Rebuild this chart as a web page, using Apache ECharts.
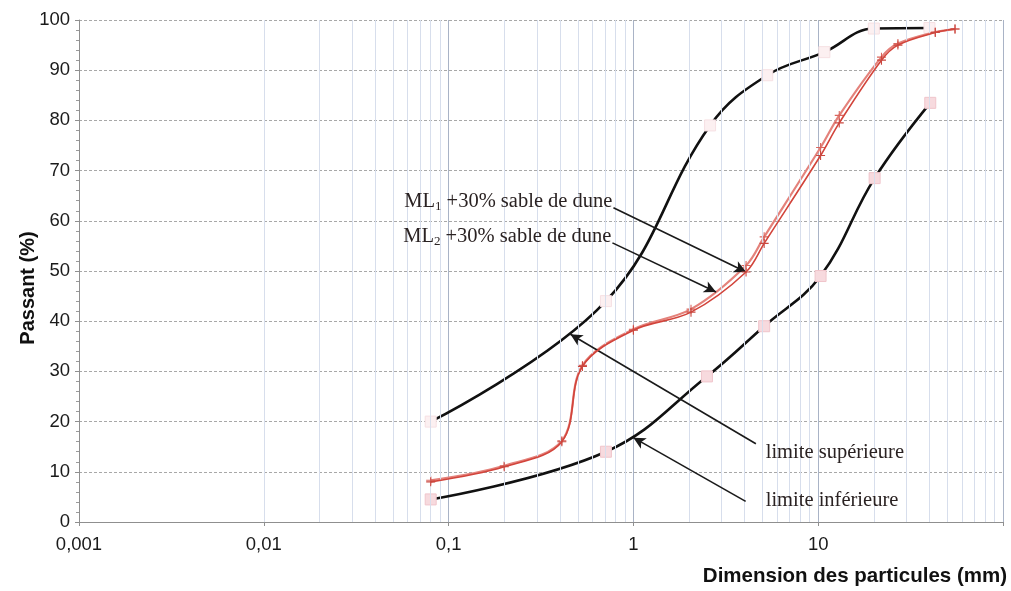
<!DOCTYPE html>
<html><head><meta charset="utf-8">
<script src="https://cdn.jsdelivr.net/npm/echarts@6/dist/echarts.min.js"></script>
<style>html,body{margin:0;padding:0;background:#fff}#c{width:1011px;height:591px}</style>
</head><body><div id="c"></div>
<script>
// ---- data ----
const xTickLabels = { '0.001': '0,001', '0.01': '0,01', '0.1': '0,1', '1': '1', '10': '10', '100': '' };
const upperSizes = [0.08, 0.71, 2.6, 5.3, 10.8, 20, 40];
const upperPass  = [20, 44, 79, 89, 93.6, 98.3, 98.4];
const lowerSizes = [0.08, 0.71, 2.5, 5.1, 10.3, 20.2, 40.4];
const lowerPass  = [4.5, 14, 29, 39, 49, 68.5, 83.5];
const mlSizes    = [0.08, 0.2, 0.41, 0.53, 1, 2.05, 4.07, 5.1, 10.3, 13, 22, 27, 43, 55];
const ml1Pass    = [8, 11, 16, 31, 38.2, 41.8, 49.8, 55.5, 73, 79.5, 92, 95, 97.5, 98.2];
const ml2Pass    = [8.3, 11.2, 16.2, 31.2, 38.4, 42.4, 51.1, 56.8, 74.6, 81, 92.6, 95.3, 97.6, 98.2];

// annotation anchors (data coordinates)
const labelML1 = [0.77, 63.9];
const labelML2 = [0.76, 56.8];
const labelSup = [5.2, 13.9];
const labelInf = [5.2, 4.3];
const arrowML1 = [[0.78, 62.6], [4.07, 49.8]];
const arrowML2 = [[0.77, 55.6], [2.8, 45.8]];
const arrowSup = [[4.6, 15.6], [0.456, 37.4]];
const arrowInf = [[4.05, 4.1], [1.0, 16.8]];

// minor log grid positions (axis structure)
const minorGrid = [];
for (let d = -3; d <= 1; d++) for (let k = 2; k <= 9; k++) minorGrid.push(+(k * Math.pow(10, d)).toPrecision(3));

const zip = (xs, ys) => xs.map((x, i) => [x, ys[i]]);
const crossSym = 'path://M0,4.4H10V5.6H0Z M4.4,0H5.6V10H4.4Z';
const serif = '"Liberation Serif", "DejaVu Serif", serif';
const sans = '"Liberation Sans", Arial, sans-serif';

const chart = echarts.init(document.getElementById('c'), null, { renderer: 'canvas' });

const textPoint = (coord, text, pos) => ({
  coord: coord, symbol: 'circle', symbolSize: 0,
  label: { show: true, position: pos, distance: 0, formatter: text,
    fontFamily: serif, fontSize: 20.5, color: '#2a2222',
    rich: { s: { fontFamily: serif, fontSize: 13, color: '#2a2222', padding: [10, 0, 0, 0] } } }
});
const arrow = (a) => [{ coord: a[0] }, { coord: a[1] }];

chart.setOption({
  backgroundColor: '#fff',
  animation: false,
  grid: { left: 79, right: 8, top: 20, bottom: 69, containLabel: false },
  xAxis: {
    type: 'log', logBase: 10, min: 0.001, max: 100,
    axisLine: { show: true, lineStyle: { color: '#8f8f8f', width: 1 } },
    axisTick: { show: true, length: 4, lineStyle: { color: '#8f8f8f' } },
    axisLabel: { fontFamily: sans, fontSize: 18.5, color: '#1a1a1a', margin: 13,
      formatter: v => { const k = String(+v.toPrecision(3)); return k in xTickLabels ? xTickLabels[k] : ''; } },
    splitLine: { show: true, lineStyle: { color: '#a9b3c6', width: 1 } }
  },
  yAxis: {
    type: 'value', min: 0, max: 100, interval: 10,
    axisLine: { show: true, lineStyle: { color: '#8f8f8f' } },
    axisTick: { show: true, length: 4, lineStyle: { color: '#8f8f8f' } },
    minorTick: { show: true, splitNumber: 5, length: 3, lineStyle: { color: '#9a9a9a' } },
    axisLabel: { fontFamily: sans, fontSize: 18.5, color: '#1a1a1a', margin: 9 },
    splitLine: { show: true, lineStyle: { color: '#a8a8a8', type: [3, 2], width: 1 } }
  },
  graphic: [{
    type: 'text', right: 4, top: 566,
    style: { text: 'Dimension des particules (mm)', font: 'bold 20.5px "Liberation Sans", Arial, sans-serif', fill: '#111' }
  }, {
    type: 'text', x: 28, y: 288, rotation: Math.PI / 2,
    style: { text: 'Passant (%)', font: 'bold 20px "Liberation Sans", Arial, sans-serif', fill: '#111',
      align: 'center', verticalAlign: 'middle' }
  }],
  series: [
    {
      name: 'grille', type: 'line', data: [], silent: true, z: 0,
      markLine: { silent: true, symbol: 'none', label: { show: false },
        lineStyle: { color: '#d7deec', width: 1, type: 'solid' },
        data: minorGrid.map(v => ({ xAxis: v })) }
    },
    {
      name: 'limite supérieure', type: 'line', smooth: 0.4,
      data: zip(upperSizes, upperPass),
      lineStyle: { color: '#111', width: 2.6 },
      symbol: 'rect', symbolSize: 11, showAllSymbol: true,
      itemStyle: { color: '#fcf0f1', borderColor: '#f6e0e3', borderWidth: 1 },
      z: 3
    },
    {
      name: 'limite inférieure', type: 'line', smooth: 0.4,
      data: zip(lowerSizes, lowerPass),
      lineStyle: { color: '#111', width: 2.6 },
      symbol: 'rect', symbolSize: 11, showAllSymbol: true,
      itemStyle: { color: '#f7dade', borderColor: '#f0c5cb', borderWidth: 1 },
      z: 3
    },
    {
      name: 'ML2 +30% sable de dune', type: 'line', smooth: 0.35,
      data: zip(mlSizes, ml2Pass),
      lineStyle: { color: '#e4827b', width: 2.2 },
      symbol: crossSym, symbolSize: 9, showAllSymbol: true,
      itemStyle: { color: '#d9665e' }, z: 4
    },
    {
      name: 'ML1 +30% sable de dune', type: 'line', smooth: 0.35,
      data: zip(mlSizes, ml1Pass),
      lineStyle: { color: '#d2443b', width: 1.6 },
      symbol: crossSym, symbolSize: 9, showAllSymbol: true,
      itemStyle: { color: '#c9473f' }, z: 5
    },
    {
      name: 'annotations', type: 'line', data: [], silent: true, z: 6,
      markLine: { silent: true, symbol: ['none', 'arrow'], symbolSize: [9, 12],
        label: { show: false }, lineStyle: { color: '#1a1a1a', width: 1.6, type: 'solid' },
        data: [arrow(arrowML1), arrow(arrowML2), arrow(arrowSup), arrow(arrowInf)] },
      markPoint: { silent: true,
        data: [
          textPoint(labelML1, 'ML{s|1} +30% sable de dune', 'left'),
          textPoint(labelML2, 'ML{s|2} +30% sable de dune', 'left'),
          textPoint(labelSup, 'limite supérieure', 'right'),
          textPoint(labelInf, 'limite inférieure', 'right')
        ] }
    }
  ]
});
</script>
</body></html>
